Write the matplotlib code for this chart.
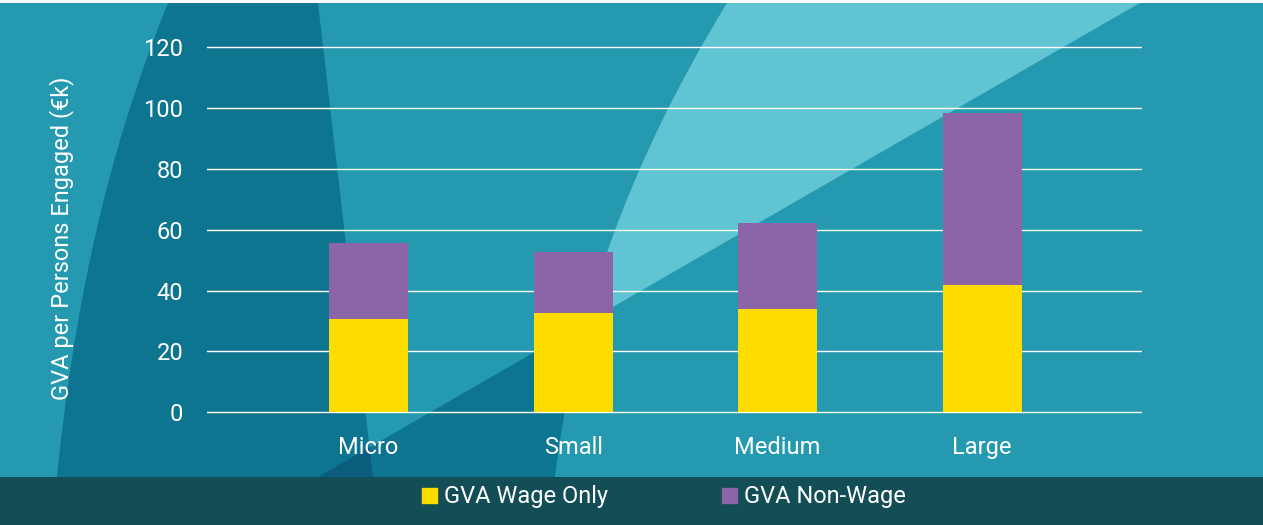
import matplotlib.pyplot as plt
from matplotlib.path import Path
from matplotlib.patches import PathPatch, Patch, Rectangle

# data
categories = ['Micro', 'Small', 'Medium', 'Large']
wage_only = [30.6, 32.6, 33.9, 41.9]
non_wage = [25.0, 20.1, 28.3, 56.4]
y_ticks = [0, 20, 40, 60, 80, 100, 120]
legend_labels = ['GVA Wage Only', 'GVA Non-Wage']

# colours
c_mid = '#2599B0'
c_dark = '#0E7590'
c_darker = '#0A5D7C'
c_light = '#60C4D3'
c_band = '#134E57'
c_yellow = '#FFDC00'
c_purple = '#8C64A8'

plt.rcParams['font.family'] = ['Roboto', 'DejaVu Sans']
fs = 17

fig = plt.figure(figsize=(12.63, 5.25), dpi=100, facecolor='white')

# background decoration, drawn in pixel coordinates
bg = fig.add_axes([0, 0, 1, 1], zorder=-1)
bg.set_xlim(0, 1263)
bg.set_ylim(525, 0)
bg.axis('off')

bg.add_patch(Rectangle((0, 3), 1263, 474, color=c_mid, lw=0))

M, C4, L, CL = Path.MOVETO, Path.CURVE4, Path.LINETO, Path.CLOSEPOLY
curve = [(727, 3), (629, 163), (574, 317), (555, 477)]
right_of_curve = Path(curve + [(1263, 477), (1263, 3), (727, 3)],
                      [M, C4, C4, C4, L, L, CL])
left_of_curve = Path(curve + [(0, 477), (0, 3), (727, 3)],
                     [M, C4, C4, C4, L, L, CL])
above_diag = Path([(0, 0), (1145, 0), (318, 477), (0, 477), (0, 0)],
                  [M, L, L, L, CL])
below_diag = Path([(1145, 0), (1263, 0), (1263, 477), (318, 477), (1145, 0)],
                  [M, L, L, L, CL])
band_path = Path([(168, 3), (104, 160), (73, 317), (57, 477), (373, 477), (318, 3), (168, 3)],
                 [M, C4, C4, C4, L, L, CL])

light = PathPatch(right_of_curve, color=c_light, lw=0)
bg.add_patch(light)
light.set_clip_path(above_diag, bg.transData)

tri = PathPatch(left_of_curve, color=c_dark, lw=0)
bg.add_patch(tri)
tri.set_clip_path(below_diag, bg.transData)

bg.add_patch(PathPatch(band_path, color=c_dark, lw=0))
darker = PathPatch(band_path, color=c_darker, lw=0)
bg.add_patch(darker)
darker.set_clip_path(below_diag, bg.transData)

bg.add_patch(Rectangle((0, 476.7), 1263, 49, color=c_band, lw=0))

# main chart
ax = fig.add_axes([0.1639, 0.2032, 0.7403, 0.7185])
ax.patch.set_visible(False)
x = range(len(categories))
ax.bar(x, wage_only, width=0.386, color=c_yellow, zorder=3)
ax.bar(x, non_wage, width=0.386, bottom=wage_only, color=c_purple, zorder=3)

ax.set_xlim(-0.79, 3.782)
ax.set_ylim(-2, 122)
ax.set_yticks(y_ticks)
ax.set_xticks(list(x))
ax.set_xticklabels(categories)
ax.grid(axis='y', color='white', linewidth=1.0, zorder=1)
ax.grid(axis='x', visible=False)
for s in ax.spines.values():
    s.set_visible(False)
ax.tick_params(axis='both', length=0, labelcolor='white', labelsize=fs)
ax.tick_params(axis='y', pad=17)
ax.tick_params(axis='x', pad=12.5)

fig.text(62 / 1263, 1 - 238 / 525, 'GVA per Persons Engaged (€k)', rotation=90,
         ha='center', va='center', color='white', fontsize=fs)

handles = [Patch(color=c_yellow), Patch(color=c_purple)]
fig.legend(handles, legend_labels, loc='center', bbox_to_anchor=(664 / 1263, 1 - 497 / 525),
           ncol=2, frameon=False, fontsize=fs, labelcolor='white',
           handlelength=0.64, handleheight=0.59, handletextpad=0.3,
           columnspacing=4.83, borderpad=0, borderaxespad=0)

fig.savefig('out.png', dpi=100, facecolor='white')
